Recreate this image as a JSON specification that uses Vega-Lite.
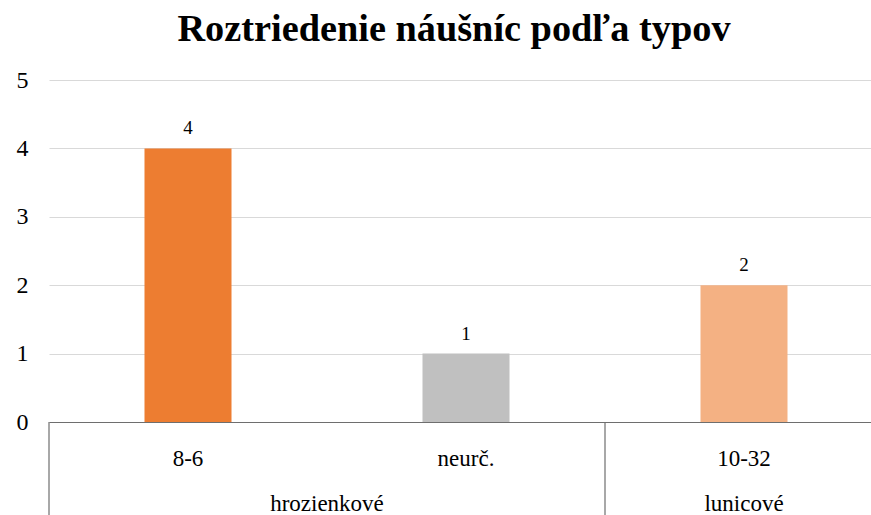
{
  "$schema": "https://vega.github.io/schema/vega-lite/v6.json",
  "width": 834,
  "height": 342,
  "autosize": {"type": "none"},
  "padding": {"left": 49, "top": 80, "right": 0, "bottom": 93},
  "background": "white",
  "config": {
    "font": "Liberation Serif",
    "axis": {"labelFont": "Liberation Serif"},
    "text": {"font": "Liberation Serif"},
    "view": {"stroke": null}
  },
  "title": {
    "text": "Roztriedenie náušníc podľa typov",
    "font": "Liberation Serif",
    "fontSize": 38.3,
    "fontWeight": "bold",
    "color": "#000000",
    "anchor": "middle",
    "dx": -12,
    "offset": 19
  },
  "datasets": {
    "bars": [
      {"typ": "8-6", "skupina": "hrozienkové", "pocet": 4},
      {"typ": "neurč.", "skupina": "hrozienkové", "pocet": 1},
      {"typ": "10-32", "skupina": "lunicové", "pocet": 2}
    ],
    "groups": [
      {"skupina": "hrozienkové", "anchor": "neurč."},
      {"skupina": "lunicové", "anchor": "10-32"}
    ],
    "dividers": [
      {"anchor": "8-6"},
      {"anchor": "10-32"}
    ]
  },
  "layer": [
    {
      "data": {"name": "bars"},
      "mark": {"type": "bar", "width": {"band": 0.313}},
      "encoding": {
        "x": {
          "field": "typ", "type": "nominal", "sort": null,
          "scale": {"paddingInner": 0, "paddingOuter": 0},
          "axis": {
            "title": null, "labelAngle": 0, "ticks": false,
            "labelFont": "Liberation Serif", "labelFontSize": 23,
            "labelColor": "#000000", "labelPadding": 43, "labelBaseline": "alphabetic",
            "labelOverlap": false,
            "domainColor": "#6e6e6e", "domainWidth": 1.2, "grid": false
          }
        },
        "y": {
          "field": "pocet", "type": "quantitative",
          "scale": {"domain": [0, 5]},
          "axis": {
            "title": null, "values": [0, 1, 2, 3, 4, 5], "format": "d",
            "domain": false, "ticks": false, "labelOverlap": false,
            "labelFont": "Liberation Serif", "labelFontSize": 24,
            "labelColor": "#000000", "labelPadding": 21,
            "gridColor": "#d9d9d9", "gridWidth": 1.2
          }
        },
        "color": {
          "field": "typ", "type": "nominal",
          "scale": {"domain": ["8-6", "neurč.", "10-32"], "range": ["#ED7D31", "#C0C0C0", "#F4B183"]},
          "legend": null
        }
      }
    },
    {
      "data": {"name": "bars"},
      "mark": {"type": "text", "baseline": "alphabetic", "dy": -14, "fontSize": 19, "font": "Liberation Serif", "color": "#000000"},
      "encoding": {
        "x": {"field": "typ", "type": "nominal", "sort": null},
        "y": {"field": "pocet", "type": "quantitative"},
        "text": {"field": "pocet", "type": "quantitative"}
      }
    },
    {
      "data": {"name": "dividers"},
      "mark": {"type": "rule", "color": "#6e6e6e", "strokeWidth": 1.2, "clip": false},
      "encoding": {
        "x": {"field": "anchor", "type": "nominal", "sort": null, "bandPosition": 0},
        "y": {"datum": 0},
        "y2": {"datum": -1.5}
      }
    },
    {
      "data": {"name": "groups"},
      "transform": [{"filter": "datum.skupina === 'hrozienkové'"}],
      "mark": {"type": "text", "baseline": "alphabetic", "dy": 89, "fontSize": 23, "font": "Liberation Serif", "color": "#000000"},
      "encoding": {
        "x": {"field": "anchor", "type": "nominal", "sort": null, "bandPosition": 0},
        "y": {"datum": 0},
        "text": {"field": "skupina"}
      }
    },
    {
      "data": {"name": "groups"},
      "transform": [{"filter": "datum.skupina === 'lunicové'"}],
      "mark": {"type": "text", "baseline": "alphabetic", "dy": 89, "fontSize": 23, "font": "Liberation Serif", "color": "#000000"},
      "encoding": {
        "x": {"field": "anchor", "type": "nominal", "sort": null, "bandPosition": 0.5},
        "y": {"datum": 0},
        "text": {"field": "skupina"}
      }
    }
  ]
}
